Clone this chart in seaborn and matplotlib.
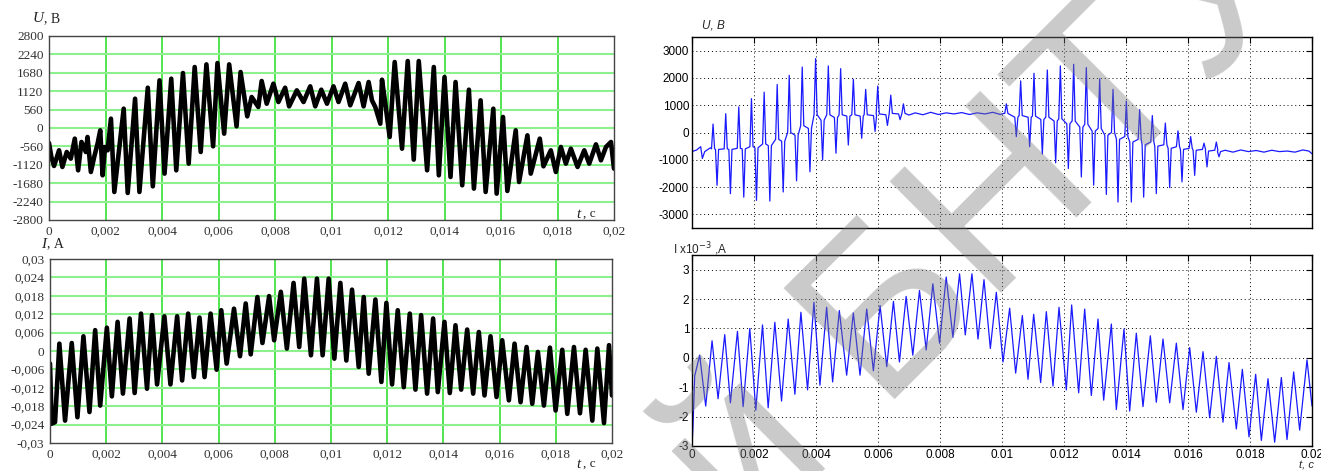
import numpy as np
import pandas as pd
import matplotlib
matplotlib.use("Agg")
import matplotlib.pyplot as plt
import seaborn as sns
from matplotlib.ticker import MultipleLocator, FuncFormatter

# ---------------- data (time in ms) ----------------
# Left, top: voltage U, V (vertices)
u1_t = [0, 0.083, 0.178, 0.356, 0.474, 0.628, 0.771, 0.913, 1.031, 1.150, 1.304, 1.363, 1.482, 1.600,
        1.719, 1.814, 1.897, 1.980, 2.075, 2.193, 2.312, 2.644, 2.786, 3.047, 3.201, 3.497, 3.675,
        3.912, 4.090, 4.327, 4.505, 4.742, 4.944, 5.157, 5.370, 5.572, 5.809, 5.963, 6.200, 6.378,
        6.639, 6.781, 7.018, 7.173, 7.410, 7.528, 7.706, 7.943, 8.121, 8.358, 8.500, 8.773, 9.010,
        9.247, 9.425, 9.638, 9.840, 10.071, 10.249, 10.485, 10.663, 10.959, 11.136, 11.314, 11.432,
        11.550, 11.728, 11.787, 11.905, 12.059, 12.237, 12.497, 12.698, 12.911, 13.089, 13.385,
        13.621, 13.799, 14.000, 14.213, 14.391, 14.627, 14.864, 15.041, 15.278, 15.456, 15.728,
        15.846, 16.071, 16.225, 16.521, 16.639, 16.935, 17.053, 17.373, 17.503, 17.763, 17.941,
        18.118, 18.296, 18.473, 18.710, 18.947, 19.124, 19.361, 19.538, 19.716, 19.893, 20.0]
u1_v = [-456, -882, -1156, -679, -1186, -730, -933, -324, -1288, -426, -730, -274, -1338, -882,
        -477, -71, -1440, -578, -679, 284, -1947, 588, -1977, 892, -1947, 1227, -1775,
        1450, -1389, 1501, -1288, 1673, -1085, 1856, -730, 1937, -558, 1977, -172, 1937,
        51, 1704, 355, 943, 639, 1430, 740, 1349, 791, 1227, 659, 1146, 791,
        1268, 659, 1166, 740, 1268, 791, 1349, 690, 1369, 659, 1399, 842,
        639, 132, 1470, 740, -274, 2008, -629, 2038, -963, 2038, -1288,
        1856, -1440, 1551, -1491, 1399, -1744, 1166, -1845, 842, -1947, 588,
        -1998, 335, -1916, -71, -1643, -223, -1389, -324, -1166, -679, -1338,
        -578, -1085, -629, -1186, -679, -1085, -497, -984, -578, -426, -1237]

# Left, bottom: current I, A
i1_t = [0, 0.060, 0.179, 0.333, 0.536, 0.774, 0.976, 1.190, 1.405, 1.607, 1.786, 2.024, 2.202,
        2.405, 2.595, 2.833, 3.012, 3.238, 3.452, 3.631, 3.810, 4.071, 4.286, 4.524, 4.702, 4.917,
        5.119, 5.321, 5.500, 5.714, 5.929, 6.095, 6.286, 6.548, 6.762, 6.964, 7.143, 7.381, 7.560,
        7.798, 7.976, 8.214, 8.429, 8.667, 8.869, 9.048, 9.286, 9.500, 9.702, 9.917, 10.119, 10.333,
        10.546, 10.748, 10.986, 11.164, 11.342, 11.580, 11.793, 11.971, 12.173, 12.375, 12.589,
        12.803, 13.005, 13.207, 13.420, 13.634, 13.800, 14.038, 14.228, 14.430, 14.632, 14.846,
        15.059, 15.261, 15.463, 15.677, 15.891, 16.093, 16.330, 16.532, 16.746, 16.960, 17.162,
        17.363, 17.577, 17.791, 17.993, 18.230, 18.409, 18.646, 18.860, 19.062, 19.299, 19.477,
        19.715, 19.893, 20.0]
i1_v = [-0.0041, -0.0237, -0.0232, 0.0024, -0.0227, 0.0026, -0.0216, 0.0048, -0.0199, 0.0068,
        -0.0178, 0.0076, -0.0148, 0.0095, -0.0139, 0.0106, -0.0137, 0.0122, -0.0123, 0.0117,
        -0.0109, 0.0113, -0.0109, 0.0113, -0.0096, 0.0122, -0.0085, 0.0109, -0.0085, 0.0122,
        -0.0061, 0.0133, -0.0041, 0.0138, -0.0017, 0.0155, -0.0011, 0.0176, 0.0026, 0.0179,
        0.0035, 0.0193, 0.0008, 0.0222, 0.0013, 0.0236, -0.0014, 0.0236, -0.0014, 0.0236,
        -0.0025, 0.0222, -0.0031, 0.0200, -0.0052, 0.0176, -0.0074, 0.0168, -0.0101, 0.0157,
        -0.0109, 0.0133, -0.0118, 0.0122, -0.0126, 0.0117, -0.0139, 0.0106, -0.0134, 0.0095,
        -0.0137, 0.0084, -0.0126, 0.0070, -0.0139, 0.0062, -0.0145, 0.0048, -0.0150, 0.0035,
        -0.0161, 0.0024, -0.0167, 0.0013, -0.0172, -0.0003, -0.0178, 0.0011, -0.0194, 0.0004,
        -0.0205, 0.0013, -0.0203, 0.0004, -0.0227, 0.0008, -0.0235, 0.0019, -0.0145]

# Right, top: voltage U, V  (t, extreme value, baseline level next to the extreme)
u2_t = [0, 0.0, 0.15, 0.28, 0.334, 0.41, 0.593,
        0.679, 0.808, 1.088, 1.239, 1.509, 1.670, 1.918, 2.080, 2.328, 2.511, 2.748, 2.942,
        3.136, 3.373, 3.556, 3.804, 3.987, 4.213, 4.397, 4.644, 4.795, 5.043, 5.205, 5.474,
        5.603, 5.905, 5.991, 6.304, 6.412, 6.713, 6.821,
        7.0, 7.2, 7.45, 7.7, 7.95, 8.2, 8.45, 8.7, 8.95, 9.2, 9.45, 9.7, 9.95, 10.05,
        10.140, 10.462, 10.602, 10.892, 11.032, 11.301, 11.462, 11.731, 11.882, 12.140, 12.312,
        12.559, 12.720, 12.957, 13.151, 13.366, 13.581, 13.742, 14.011, 14.172, 14.441, 14.570,
        14.849, 14.978, 15.269, 15.409, 15.677, 15.806, 16.086, 16.215, 16.516, 16.613, 16.914,
        17.000,
        17.2, 17.45, 17.7, 17.95, 18.2, 18.45, 18.7, 18.95, 19.2, 19.45, 19.7, 19.9, 20.0]
u2_v = [-3700, -700, -640, -520, -950, -700, -560,
        308, -1934, 690, -2242, 940, -2371, 1240, -2488, 1480, -2513, 1760, -2180,
        2094, -1771, 2400, -1440, 2710, -1010, 2440, -760, 2340, -460, 1950, -210,
        1580, 40, 1700, 260, 1370, 470, 1050,
        640, 720, 650, 740, 660, 720, 680, 730, 660, 720, 680, 740, 660, 700,
        1050, -150, 1890, -520, 2170, -790, 2290, -1110, 2440, -1320, 2500,
        -1630, 2380, -1930, 1970, -2270, 1580, -2550, 1150, -2550, 840, -2370,
        620, -2240, 345, -2020, 60, -1810, -150, -1570, -390, -1260, -350,
        -890,
        -650, -720, -640, -700, -660, -720, -650, -700, -680, -720, -640, -680, -780]
u2_base = [-3700, -700, -640, -520, -950, -700, -560,
           -600, -620, -600, -620, -580, -600, -520, -560, -420, -480, -250, -320,
           0, -100, 250, 150, 650, 450, 650, 550, 650, 600, 650, 600,
           650, 620, 680, 650, 700, 680, 700,
           640, 720, 650, 740, 660, 720, 680, 730, 660, 720, 680, 740, 660, 700,
           700, 560, 620, 560, 600, 480, 560, 420, 500, 320, 420,
           200, 300, 50, 150, -100, 0, -250, -150, -350, -250, -450,
           -350, -500, -450, -580, -520, -620, -580, -650, -620, -680, -650,
           -700,
           -650, -720, -640, -700, -660, -720, -650, -700, -680, -720, -640, -680, -780]

# Right, bottom: current I, x10^-3 A
i2_t = [0, 0.032, 0.086, 0.248, 0.442, 0.647, 0.841, 1.056, 1.239, 1.466, 1.649, 1.864, 2.058,
        2.274, 2.457, 2.672, 2.888, 3.103, 3.319, 3.513, 3.728, 3.933, 4.127, 4.343, 4.537, 4.752,
        4.989, 5.205, 5.420, 5.636, 5.851, 6.067, 6.282, 6.498, 6.692, 6.907, 7.123, 7.338, 7.554,
        7.769, 7.985, 8.200, 8.416, 8.631, 8.815, 9.030, 9.226, 9.419, 9.624, 9.817, 10.032,
        10.247, 10.441, 10.656, 10.839, 11.022, 11.247, 11.430, 11.645, 11.839, 12.075, 12.247,
        12.473, 12.667, 12.882, 13.097, 13.280, 13.527, 13.688, 13.935, 14.118, 14.333, 14.548,
        14.785, 14.978, 15.194, 15.409, 15.624, 15.839, 16.054, 16.269, 16.484, 16.699, 16.914,
        17.129, 17.323, 17.559, 17.753, 17.968, 18.183, 18.366, 18.581, 18.796, 19.011, 19.194,
        19.409, 19.602, 19.839, 20.0]
i2_v = [-3.01, -2.33, -0.62, 0.09, -1.64, 0.58, -1.39, 0.79, -1.53, 0.90, -1.66, 1.00, -1.78,
        1.12, -1.70, 1.21, -1.47, 1.32, -1.24, 1.55, -1.09, 1.89, -0.93, 1.72, -0.82, 1.61,
        -0.59, 1.53, -0.59, 1.66, -0.44, 1.78, -0.30, 1.92, -0.14, 2.09, 0.09, 2.29, 0.27,
        2.52, 0.50, 2.75, 0.70, 2.86, 0.78, 2.86, 0.64, 2.66, 0.32, 2.23, -0.14,
        1.69, -0.52, 1.44, -0.73, 1.48, -0.84, 1.57, -0.96, 1.72, -1.09, 1.80,
        -1.19, 1.66, -1.28, 1.32, -1.44, 1.15, -1.76, 0.98, -1.81, 0.84, -1.66,
        0.75, -1.51, 0.64, -1.53, 0.50, -1.76, 0.35, -1.85, 0.21, -2.04, 0.05,
        -2.19, -0.16, -2.42, -0.39, -2.69, -0.56, -2.81, -0.71, -2.87, -0.67, -2.78,
        -0.48, -2.46, -0.07, -1.64]

x_ticks = [0, 0.002, 0.004, 0.006, 0.008, 0.01, 0.012, 0.014, 0.016, 0.018, 0.02]
watermark = "й БНТУ"

# ---------------- build frames ----------------
df_u1 = pd.DataFrame({"t": np.array(u1_t) / 1000.0, "v": u1_v})
df_i1 = pd.DataFrame({"t": np.array(i1_t) / 1000.0, "v": i1_v})
rows = []
dt = 0.05
for t, v, b in zip(u2_t, u2_v, u2_base):
    if v != b:
        rows += [(t - dt, b), (t, v), (t + dt, b)]
    else:
        rows.append((t, v))
df_u2 = pd.DataFrame(rows, columns=["t", "v"])
df_u2["t"] = df_u2["t"] / 1000.0
df_i2 = pd.DataFrame({"t": np.array(i2_t) / 1000.0, "v": i2_v})

# ---------------- style ----------------
sns.set_theme(style="white")
plt.rcParams['font.family'] = ['Liberation Serif', 'DejaVu Serif']
plt.rcParams['axes.unicode_minus'] = False

fig = plt.figure(figsize=(13.21, 4.71), dpi=100)
W, H = 1321, 471

def ax_px(x0, y0, x1, y1):
    return fig.add_axes([x0 / W, 1 - y1 / H, (x1 - x0) / W, (y1 - y0) / H])

axL1 = ax_px(49, 36, 614, 220)
axL2 = ax_px(50, 259, 612, 443)
axR1 = ax_px(692, 37, 1312, 228)
axR2 = ax_px(692, 255, 1312, 446)

comma = lambda s: s.replace('.', ',')

def left_style(ax, ylim, ystep, yfmt):
    ax.set_xlim(0, 0.02)
    ax.set_ylim(*ylim)
    ax.set_xticks(x_ticks)
    ax.yaxis.set_major_locator(MultipleLocator(ystep))
    for x in x_ticks[1:-1]:
        ax.axvline(x, color="#33e033", lw=1.2, zorder=0)
    yt = np.arange(ylim[0], ylim[1] + ystep / 2, ystep)
    for y in yt[1:-1]:
        ax.axhline(y, color="#8cf08c", lw=1.5, zorder=0)
    ax.xaxis.set_major_formatter(FuncFormatter(lambda v, p: comma(f"{round(v, 4):g}")))
    ax.yaxis.set_major_formatter(FuncFormatter(yfmt))
    ax.tick_params(axis="both", length=0, labelsize=9.5, pad=4, colors="#333333")
    for s in ax.spines.values():
        s.set_color("#444444")
        s.set_linewidth(1.0)
    ax.set_xlabel("")
    ax.set_ylabel("")

sns.lineplot(data=df_u1, x="t", y="v", ax=axL1, sort=False, color="black", lw=3.3, estimator=None)
left_style(axL1, (-2800, 2800), 560, lambda v, p: f"{int(round(v))}")
sns.lineplot(data=df_i1, x="t", y="v", ax=axL2, sort=False, color="black", lw=3.3, estimator=None)
left_style(axL2, (-0.03, 0.03), 0.006, lambda v, p: "0" if abs(v) < 1e-9 else comma(f"{round(v, 4):g}"))

def right_style(ax, ylim, yticks, xlabels):
    ax.set_xlim(0, 0.02)
    ax.set_ylim(*ylim)
    ax.set_xticks(x_ticks)
    ax.set_yticks(yticks)
    ax.grid(True, color="black", linestyle=(0, (1, 3)), lw=0.7)
    ax.tick_params(axis="both", direction="in", length=4, width=0.8, top=True, right=True,
                   labelsize=8.5, colors="black", pad=2)
    if xlabels:
        ax.set_xticklabels(["0"] + [f"{round(x, 4):g}" for x in x_ticks[1:]])
    else:
        ax.set_xticklabels([])
    ax.set_yticklabels([f"{v:g}" for v in yticks])
    for lab in ax.get_xticklabels() + ax.get_yticklabels():
        lab.set_family(['Liberation Sans', 'DejaVu Sans'])
    for s in ax.spines.values():
        s.set_color("black")
        s.set_linewidth(1.0)
    ax.set_xlabel("")
    ax.set_ylabel("")

sns.lineplot(data=df_u2, x="t", y="v", ax=axR1, sort=False, color="#1a1aff", lw=0.9, estimator=None)
right_style(axR1, (-3500, 3500), [-3000, -2000, -1000, 0, 1000, 2000, 3000], False)
sns.lineplot(data=df_i2, x="t", y="v", ax=axR2, sort=False, color="#1a1aff", lw=0.9, estimator=None)
right_style(axR2, (-3, 3.5), [-3, -2, -1, 0, 1, 2, 3], True)

# ---------------- axis captions ----------------
def ftxt(x, y, s, **kw):
    return fig.text(x / W, 1 - y / H, s, **kw)

ftxt(33, 19, "U", fontsize=11, style="italic", va="center", color="#222222")
ftxt(44, 19, ", В", fontsize=10, va="center", color="#222222")
ftxt(41, 244, "I", fontsize=11, style="italic", va="center", color="#222222")
ftxt(47, 244, ", А", fontsize=10, va="center", color="#222222")
ftxt(576, 214, "t", fontsize=11, style="italic", va="center", color="#222222")
ftxt(583, 214, ", с", fontsize=9.5, va="center", color="#222222")
ftxt(576, 464, "t", fontsize=11, style="italic", va="center", color="#222222")
ftxt(583, 464, ", с", fontsize=9.5, va="center", color="#222222")

sans = ['Liberation Sans', 'DejaVu Sans']
ftxt(702, 26, "U, B", fontsize=8.5, style="italic", va="center", family=sans)
ftxt(673, 249, r"I x10$^{-3}$ ,A", fontsize=8.5, va="center", family=sans)
ftxt(1299, 465, "t, c", fontsize=8, style="italic", va="center", family=sans)

# repository watermark (semi-transparent grey text across the right half)
ftxt(985, 225, watermark, fontsize=165, fontweight="normal", color="#7a7a7a", alpha=0.4,
     rotation=45, rotation_mode="anchor", ha="center", va="center", family=sans, zorder=10)

fig.savefig("out.png", dpi=100)
